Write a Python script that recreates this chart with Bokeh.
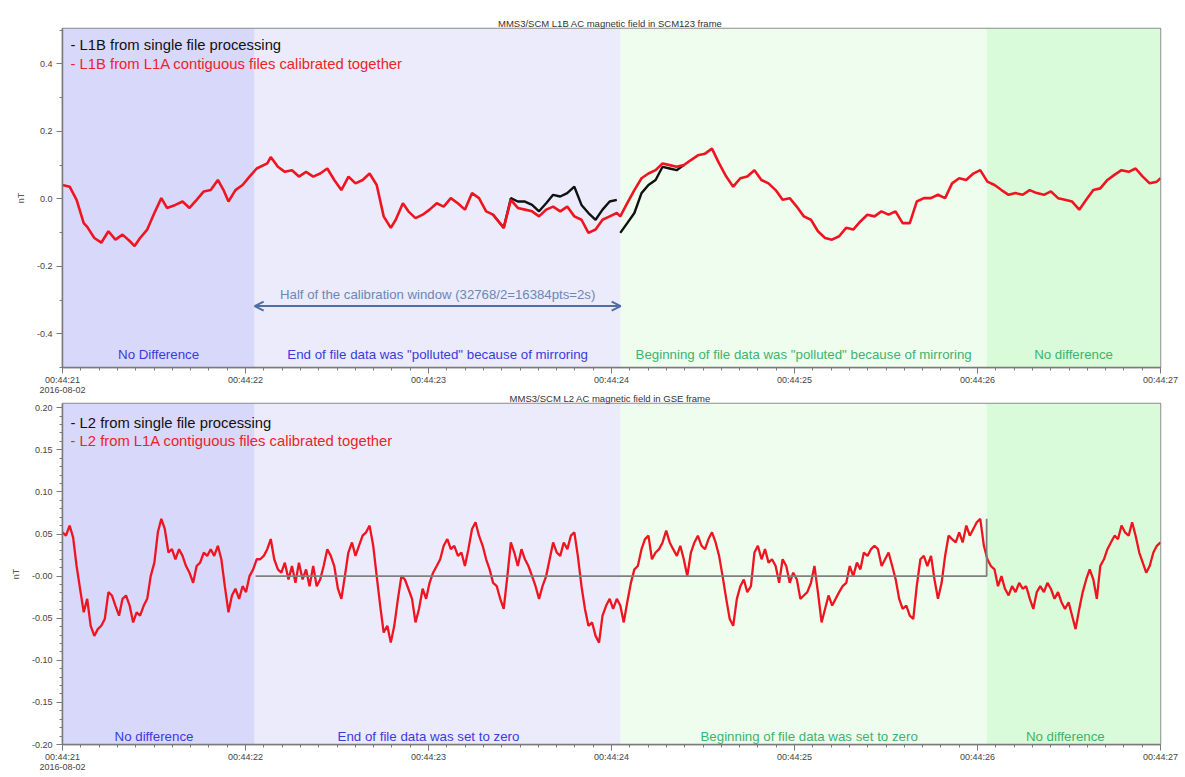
from bokeh.plotting import figure
from bokeh.layouts import column
from bokeh.models import (SingleIntervalTicker, CustomJSTickFormatter, Arrow, OpenHead, Range1d)
from bokeh.core.properties import value
from bokeh.embed import file_html
from bokeh.resources import INLINE

# ---------------- data ----------------
time_ticks = [21, 22, 23, 24, 25, 26, 27]
time_tick_labels = ["00:44:21\n2016-08-02", "00:44:22", "00:44:23", "00:44:24",
                    "00:44:25", "00:44:26", "00:44:27"]

top_yticks = [-0.4, -0.2, 0.0, 0.2, 0.4]
top_ytick_labels = ["-0.4", "-0.2", "0.0", "0.2", "0.4"]
bot_yticks = [-0.20, -0.15, -0.10, -0.05, 0.0, 0.05, 0.10, 0.15, 0.20]
bot_ytick_labels = ["-0.20", "-0.15", "-0.10", "-0.05", "-0.00", "0.05", "0.10", "0.15", "0.20"]

region_start = [21.0, 22.05, 24.05, 26.05]
region_end = [22.05, 24.05, 26.05, 27.0]

top_title = "MMS3/SCM  L1B AC magnetic field in SCM123 frame"
bot_title = "MMS3/SCM  L2 AC magnetic field in GSE frame"
top_legend = ["- L1B from single file processing", "- L1B from L1A contiguous files calibrated together"]
bot_legend = ["- L2 from single file processing", "- L2 from L1A contiguous files calibrated together"]
top_region_labels = ["No Difference", 'End of file data was "polluted" because of mirroring',
                     'Beginning of file data was "polluted" because of mirroring', "No difference"]
bot_region_labels = ["No difference", "End of file data was set to zero",
                     "Beginning of file data was set to zero", "No difference"]
arrow_label = "Half of the calibration window (32768/2=16384pts=2s)"

# L1B, contiguous calibration (red)
top_red_t = [21.000, 21.039, 21.077, 21.116, 21.135, 21.174, 21.212, 21.251, 21.289, 21.328,
             21.367, 21.394, 21.424, 21.463, 21.502, 21.540, 21.571, 21.617, 21.656, 21.694,
             21.733, 21.772, 21.810, 21.849, 21.880, 21.907, 21.945, 21.984, 22.022, 22.061,
             22.119, 22.138, 22.177, 22.215, 22.254, 22.292, 22.331, 22.370, 22.408, 22.447,
             22.485, 22.524, 22.563, 22.601, 22.640, 22.678, 22.717, 22.755, 22.794, 22.821,
             22.860, 22.890, 22.929, 22.968, 23.006, 23.045, 23.083, 23.122, 23.160, 23.199,
             23.238, 23.276, 23.315, 23.353, 23.411, 23.450, 23.488, 23.527, 23.566, 23.604,
             23.643, 23.681, 23.720, 23.758, 23.797, 23.836, 23.874, 23.913, 23.951, 23.990,
             24.029, 24.048, 24.086, 24.125, 24.164, 24.202, 24.241, 24.279, 24.318, 24.356,
             24.395, 24.434, 24.472, 24.511, 24.549, 24.588, 24.627, 24.665, 24.704, 24.742,
             24.781, 24.819, 24.858, 24.897, 24.935, 24.974, 25.012, 25.051, 25.090, 25.128,
             25.167, 25.205, 25.244, 25.282, 25.321, 25.360, 25.398, 25.437, 25.475, 25.514,
             25.552, 25.591, 25.630, 25.668, 25.707, 25.745, 25.784, 25.823, 25.861, 25.900,
             25.938, 25.977, 26.015, 26.054, 26.093, 26.131, 26.170, 26.208, 26.247, 26.285,
             26.324, 26.363, 26.401, 26.440, 26.478, 26.517, 26.556, 26.594, 26.633, 26.671,
             26.710, 26.748, 26.787, 26.826, 26.864, 26.903, 26.941, 26.980, 27.000]
top_red_v = [0.041, 0.036, -0.003, -0.072, -0.083, -0.116, -0.130, -0.096, -0.121, -0.106,
             -0.125, -0.140, -0.116, -0.091, -0.042, 0.002, -0.027, -0.018, -0.008, -0.027,
             -0.003, 0.022, 0.026, 0.056, 0.026, -0.008, 0.026, 0.041, 0.066, 0.090,
             0.105, 0.124, 0.095, 0.080, 0.085, 0.066, 0.080, 0.066, 0.075, 0.090,
             0.056, 0.026, 0.066, 0.046, 0.056, 0.075, 0.041, -0.052, -0.086, -0.062,
             -0.013, -0.037, -0.057, -0.047, -0.032, -0.013, -0.023, 0.002, -0.013, -0.032,
             0.017, 0.002, -0.037, -0.047, -0.086, -0.003, -0.027, -0.032, -0.037, -0.052,
             -0.032, -0.023, -0.037, -0.023, -0.052, -0.062, -0.101, -0.091, -0.062, -0.052,
             -0.042, -0.052, -0.013, 0.026, 0.061, 0.075, 0.085, 0.105, 0.100, 0.095,
             0.100, 0.115, 0.129, 0.134, 0.149, 0.105, 0.066, 0.036, 0.061, 0.066,
             0.085, 0.056, 0.046, 0.026, -0.003, 0.002, -0.023, -0.052, -0.062, -0.096,
             -0.116, -0.121, -0.111, -0.086, -0.091, -0.067, -0.047, -0.052, -0.037, -0.047,
             -0.037, -0.072, -0.072, -0.008, 0.002, 0.002, 0.012, 0.002, 0.046, 0.061,
             0.056, 0.075, 0.085, 0.051, 0.041, 0.026, 0.012, 0.017, 0.012, 0.026,
             0.017, 0.012, 0.022, 0.002, -0.003, -0.008, -0.032, -0.003, 0.026, 0.031,
             0.056, 0.071, 0.085, 0.080, 0.090, 0.066, 0.046, 0.051, 0.061]

# L1B, single-file processing (black) where it differs: end of first file, start of next file
top_blk_end_t = [23.353, 23.411, 23.450, 23.488, 23.527, 23.566, 23.604, 23.643, 23.681,
                 23.720, 23.758, 23.797, 23.836, 23.874, 23.913, 23.951, 23.990, 24.029]
top_blk_end_v = [-0.047, -0.086, 0.002, -0.008, -0.008, -0.018, -0.037, -0.013, 0.012,
                 0.007, 0.017, 0.036, -0.018, -0.042, -0.062, -0.032, -0.008, -0.003]
top_blk_beg_t = [24.048, 24.086, 24.125, 24.164, 24.202, 24.241, 24.279, 24.318, 24.356, 24.395]
top_blk_beg_v = [-0.101, -0.072, -0.042, 0.017, 0.041, 0.056, 0.095, 0.090, 0.085, 0.100]

# L2, contiguous calibration (red)
bot_red_t = [21.000, 21.019, 21.039, 21.058, 21.077, 21.096, 21.116, 21.135, 21.154, 21.174,
             21.193, 21.212, 21.231, 21.251, 21.270, 21.289, 21.309, 21.328, 21.347, 21.367,
             21.386, 21.405, 21.424, 21.444, 21.463, 21.482, 21.502, 21.521, 21.540, 21.559,
             21.579, 21.598, 21.617, 21.637, 21.656, 21.675, 21.694, 21.714, 21.733, 21.752,
             21.772, 21.791, 21.810, 21.829, 21.849, 21.868, 21.887, 21.907, 21.926, 21.945,
             21.965, 21.984, 22.003, 22.022, 22.042, 22.061, 22.080, 22.100, 22.119, 22.138,
             22.157, 22.177, 22.196, 22.215, 22.235, 22.254, 22.273, 22.292, 22.312, 22.331,
             22.350, 22.370, 22.389, 22.408, 22.427, 22.447, 22.466, 22.485, 22.505, 22.524,
             22.543, 22.562, 22.582, 22.601, 22.620, 22.640, 22.659, 22.678, 22.698, 22.717,
             22.736, 22.755, 22.775, 22.794, 22.813, 22.833, 22.852, 22.871, 22.890, 22.910,
             22.929, 22.948, 22.968, 22.987, 23.006, 23.025, 23.045, 23.064, 23.083, 23.103,
             23.122, 23.141, 23.161, 23.180, 23.199, 23.218, 23.238, 23.257, 23.276, 23.296,
             23.315, 23.334, 23.353, 23.373, 23.392, 23.411, 23.431, 23.450, 23.469, 23.488,
             23.508, 23.527, 23.546, 23.566, 23.585, 23.604, 23.623, 23.643, 23.662, 23.681,
             23.701, 23.720, 23.739, 23.759, 23.778, 23.797, 23.816, 23.836, 23.855, 23.874,
             23.894, 23.913, 23.932, 23.951, 23.971, 23.990, 24.009, 24.029, 24.048, 24.067,
             24.086, 24.106, 24.125, 24.144, 24.164, 24.183, 24.202, 24.221, 24.241, 24.260,
             24.279, 24.299, 24.318, 24.337, 24.357, 24.376, 24.395, 24.414, 24.434, 24.453,
             24.472, 24.492, 24.511, 24.530, 24.549, 24.569, 24.588, 24.607, 24.627, 24.646,
             24.665, 24.685, 24.704, 24.723, 24.742, 24.762, 24.781, 24.800, 24.820, 24.839,
             24.858, 24.877, 24.897, 24.916, 24.935, 24.955, 24.974, 24.993, 25.013, 25.032,
             25.051, 25.070, 25.090, 25.109, 25.128, 25.148, 25.167, 25.186, 25.206, 25.225,
             25.244, 25.263, 25.283, 25.302, 25.321, 25.341, 25.360, 25.379, 25.399, 25.418,
             25.437, 25.456, 25.476, 25.495, 25.514, 25.534, 25.553, 25.572, 25.591, 25.611,
             25.630, 25.649, 25.668, 25.688, 25.707, 25.726, 25.746, 25.765, 25.784, 25.804,
             25.823, 25.842, 25.861, 25.881, 25.900, 25.919, 25.939, 25.958, 25.977, 25.996,
             26.015, 26.035, 26.054, 26.073, 26.093, 26.112, 26.131, 26.150, 26.170, 26.189,
             26.208, 26.228, 26.247, 26.266, 26.286, 26.305, 26.324, 26.343, 26.363, 26.382,
             26.401, 26.421, 26.440, 26.459, 26.478, 26.498, 26.517, 26.536, 26.556, 26.575,
             26.594, 26.613, 26.633, 26.652, 26.671, 26.691, 26.710, 26.729, 26.749, 26.768,
             26.787, 26.806, 26.826, 26.845, 26.864, 26.884, 26.903, 26.922, 26.941, 26.961,
             26.980, 27.000]
bot_red_v = [0.052, 0.048, 0.060, 0.046, 0.012, -0.015, -0.043, -0.027, -0.059, -0.071,
             -0.063, -0.059, -0.051, -0.019, -0.023, -0.035, -0.047, -0.027, -0.023, -0.035,
             -0.055, -0.043, -0.047, -0.035, -0.027, 0.000, 0.016, 0.052, 0.068, 0.056,
             0.028, 0.032, 0.020, 0.032, 0.024, 0.012, 0.004, -0.008, 0.012, 0.016,
             0.028, 0.024, 0.032, 0.024, 0.036, 0.020, -0.012, -0.043, -0.023, -0.015,
             -0.027, -0.012, -0.019, 0.000, 0.008, 0.020, 0.020, 0.024, 0.032, 0.044,
             0.020, 0.008, 0.004, 0.016, -0.004, 0.012, -0.008, 0.016, -0.004, 0.008,
             -0.012, 0.012, -0.012, -0.004, 0.012, 0.032, 0.024, 0.012, -0.015, -0.027,
             0.000, 0.028, 0.040, 0.024, 0.036, 0.048, 0.052, 0.060, 0.036, 0.000,
             -0.035, -0.067, -0.059, -0.079, -0.059, -0.027, 0.000, -0.004, -0.015, -0.027,
             -0.055, -0.039, -0.015, -0.027, -0.008, 0.004, 0.012, 0.020, 0.036, 0.044,
             0.032, 0.036, 0.024, 0.028, 0.012, 0.032, 0.056, 0.064, 0.048, 0.036,
             0.020, 0.008, -0.008, -0.012, -0.027, -0.039, 0.000, 0.040, 0.028, 0.012,
             0.032, 0.020, 0.012, 0.000, -0.012, -0.027, -0.012, 0.000, 0.020, 0.040,
             0.028, 0.024, 0.040, 0.032, 0.048, 0.052, 0.024, -0.012, -0.039, -0.059,
             -0.055, -0.071, -0.079, -0.047, -0.035, -0.027, -0.039, -0.027, -0.035, -0.055,
             -0.031, -0.008, 0.008, 0.012, 0.032, 0.044, 0.048, 0.020, 0.028, 0.032,
             0.040, 0.054, 0.040, 0.032, 0.024, 0.036, 0.020, 0.000, 0.028, 0.040,
             0.048, 0.036, 0.032, 0.044, 0.052, 0.040, 0.024, 0.000, -0.027, -0.051,
             -0.059, -0.027, -0.012, -0.004, -0.019, -0.012, 0.028, 0.036, 0.020, 0.032,
             0.016, 0.020, 0.012, -0.008, 0.020, 0.012, -0.008, 0.004, -0.004, -0.027,
             -0.023, -0.019, -0.008, 0.012, -0.019, -0.055, -0.039, -0.023, -0.035, -0.027,
             -0.019, -0.012, -0.008, 0.012, 0.000, 0.016, 0.008, 0.028, 0.024, 0.032,
             0.036, 0.032, 0.012, 0.020, 0.028, 0.012, -0.004, -0.027, -0.039, -0.035,
             -0.047, -0.051, -0.012, 0.020, 0.024, 0.012, 0.024, -0.004, -0.027, -0.008,
             0.024, 0.048, 0.044, 0.040, 0.052, 0.040, 0.060, 0.048, 0.056, 0.064,
             0.068, 0.036, 0.020, 0.012, 0.008, -0.012, 0.000, -0.015, -0.023, -0.012,
             -0.019, -0.008, -0.015, -0.012, -0.027, -0.039, -0.019, -0.012, -0.019, -0.008,
             -0.015, -0.027, -0.019, -0.031, -0.039, -0.031, -0.047, -0.063, -0.039, -0.019,
             -0.004, 0.008, -0.004, -0.027, 0.012, 0.020, 0.032, 0.040, 0.048, 0.044,
             0.060, 0.052, 0.048, 0.064, 0.048, 0.028, 0.016, 0.004, 0.012, 0.028,
             0.036, 0.040]

# L2, single-file processing (black): data set to zero across the file boundary
bot_blk_t = [22.055, 26.05, 26.05]
bot_blk_v = [0.0, 0.0, 0.068]

# ---------------- styling ----------------
FONT = "Liberation Sans"
REGION_FILL = ["#d8d8fa", "#ebebfc", "#effdef", "#d9fbd9"]
LABEL_COLORS = ["#3a3ae0", "#3a3ae0", "#3cb46e", "#3cb46e"]
RED = "#ee1520"
AXIS_GREY = "#7a7a7a"


def tick_formatter(tvals, tlabels):
    return CustomJSTickFormatter(args=dict(tvals=tvals, tlabels=tlabels), code="""
        for (let i = 0; i < tvals.length; i++) {
            if (Math.abs(tvals[i] - tick) < 1e-6) { return tlabels[i]; }
        }
        return "";
    """)


def make_panel(title, height, ymin, ymax, yinterval, yminor, yticks, ylabels, top_border, bottom_border):
    p = figure(width=1180, height=height, output_backend="svg", toolbar_location=None,
               x_range=Range1d(time_ticks[0], time_ticks[-1]), y_range=Range1d(ymin, ymax),
               min_border_left=62, min_border_right=20, min_border_top=top_border,
               min_border_bottom=bottom_border)
    p.title.text = title
    p.title.align = "center"
    p.title.text_font = FONT
    p.title.text_font_size = "9.5px"
    p.title.text_font_style = "normal"
    p.title.text_color = "#333333"
    p.title.text_line_height = 1.0
    p.title.standoff = 0
    p.title.offset = 0
    p.grid.visible = False
    p.outline_line_color = "#8c8c8c"
    p.outline_line_width = 1.5
    p.background_fill_color = "white"

    xa = p.xaxis[0]
    xa.ticker = SingleIntervalTicker(interval=1, num_minor_ticks=10)
    xa.formatter = tick_formatter(time_ticks, time_tick_labels)
    ya = p.yaxis[0]
    ya.ticker = SingleIntervalTicker(interval=yinterval, num_minor_ticks=yminor)
    ya.formatter = tick_formatter(yticks, ylabels)
    ya.axis_label = "nT"
    ya.axis_label_text_font = FONT
    ya.axis_label_text_font_size = "9px"
    ya.axis_label_text_font_style = "normal"
    ya.axis_label_text_color = "#555555"
    ya.axis_label_standoff = 8
    for ax in (xa, ya):
        ax.axis_line_color = AXIS_GREY
        ax.axis_line_width = 1.5
        ax.major_tick_line_color = AXIS_GREY
        ax.minor_tick_line_color = AXIS_GREY
        ax.major_tick_out = 6
        ax.major_tick_in = 0
        ax.minor_tick_out = 3
        ax.minor_tick_in = 0
        ax.major_label_text_font = FONT
        ax.major_label_text_font_size = "9px"
        ax.major_label_text_color = "#444444"
    xa.major_label_standoff = 1
    xa.major_label_text_line_height = 1.05
    ya.major_label_standoff = 4

    p.quad(left=region_start, right=region_end, bottom=ymin, top=ymax,
           fill_color=REGION_FILL, line_color=None)
    return p


# ---------------- top panel ----------------
p1 = make_panel(top_title, 398, -0.5, 0.505, 0.2, 2, top_yticks, top_ytick_labels, 28, 24)
p1.line(top_blk_end_t, top_blk_end_v, line_color="#111111", line_width=2.4)
p1.line(top_blk_beg_t, top_blk_beg_v, line_color="#111111", line_width=2.4)
p1.line(top_red_t, top_red_v, line_color=RED, line_width=2.6)

p1.text(x=[time_ticks[0] + 0.044] * 2, y=[0.455, 0.40], text=top_legend,
        text_color=["#111111", "#ee2229"], text_font=value(FONT), text_font_size="14.8px",
        text_baseline="middle", text_align="left")
top_label_x = [(a + b) / 2 for a, b in zip(region_start, region_end)]
p1.text(x=top_label_x, y=[-0.462] * 4, text=top_region_labels, text_color=LABEL_COLORS,
        text_font=value(FONT), text_font_size="13.3px", text_baseline="middle", text_align="center")
p1.add_layout(Arrow(start=OpenHead(size=9, line_color="#4d6fa6", line_width=2),
                    end=OpenHead(size=9, line_color="#4d6fa6", line_width=2),
                    x_start=region_start[1], x_end=region_end[1], y_start=-0.318, y_end=-0.318,
                    line_color="#4d6fa6", line_width=2))
p1.text(x=[(region_start[1] + region_end[1]) / 2], y=[-0.284], text=[arrow_label],
        text_color="#6a87b8", text_font=value(FONT), text_font_size="13.2px",
        text_baseline="middle", text_align="center")

# ---------------- bottom panel ----------------
p2 = make_panel(bot_title, 385, -0.2, 0.205, 0.05, 5, bot_yticks, bot_ytick_labels, 11, 27)
p2.margin = (-8, 0, 0, 0)
p2.border_fill_color = None
p2.line(bot_red_t, bot_red_v, line_color=RED, line_width=2.3)
p2.line(bot_blk_t, bot_blk_v, line_color="#808080", line_width=1.8)

p2.text(x=[time_ticks[0] + 0.044] * 2, y=[0.182, 0.160], text=bot_legend,
        text_color=["#111111", "#ee2229"], text_font=value(FONT), text_font_size="14.8px",
        text_baseline="middle", text_align="left")
p2.text(x=[21.5, 23.0, 25.08, 26.48], y=[-0.19] * 4, text=bot_region_labels,
        text_color=LABEL_COLORS, text_font=value(FONT), text_font_size="13.3px",
        text_baseline="middle", text_align="center")

layout = column(p1, p2, spacing=0)
open("out.html", "w").write(file_html(layout, INLINE))
